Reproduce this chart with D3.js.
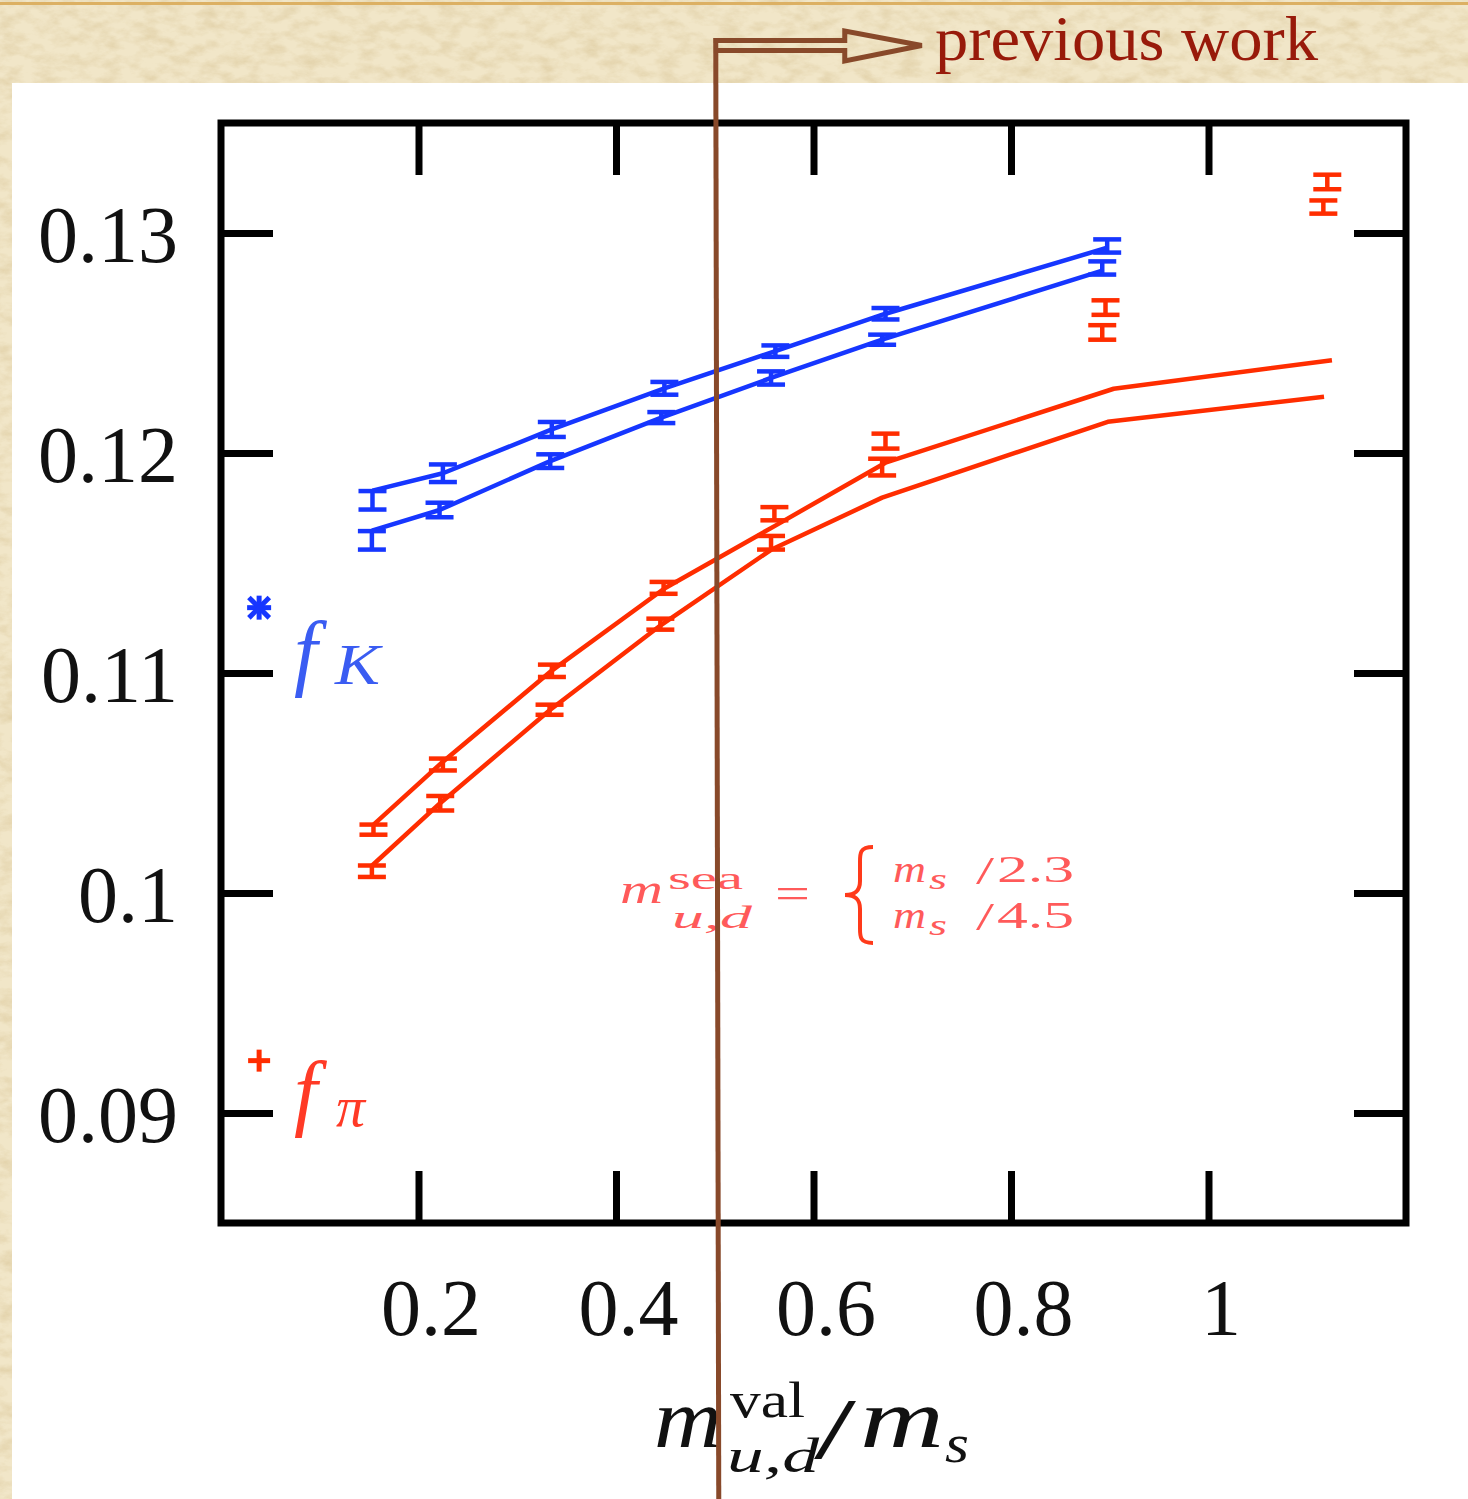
<!DOCTYPE html>
<html>
<head>
<meta charset="utf-8">
<script src="https://cdn.jsdelivr.net/npm/d3@7"></script>
<style>
  body { margin: 0; background: #fff; }
  svg { display: block; }
  .serif { font-family: "Liberation Serif", "Times New Roman", serif; }
</style>
</head>
<body>
<div id="chart"></div>
<script>
// f_K data, sea mass ms/2.3 (upper) and ms/4.5 (lower)
const fKx_23 = [0.1534, 0.2247, 0.3350, 0.4490, 0.5614, 0.6729, 0.8974];
const fK_23 = [0.11785, 0.11908, 0.12107, 0.12294, 0.12463, 0.12633, 0.12941];
const fKerr_23 = [0.00042, 0.00040, 0.00034, 0.00029, 0.00026, 0.00026, 0.00030];
const fKx_45 = [0.1528, 0.2213, 0.3334, 0.4459, 0.5570, 0.6695, 0.8924];
const fK_45 = [0.11603, 0.11741, 0.11963, 0.12161, 0.12341, 0.12515, 0.12841];
const fKerr_45 = [0.00042, 0.00033, 0.00031, 0.00025, 0.00030, 0.00023, 0.00030];
// fit curves for f_K
const fKfit_23 = [0.11829, 0.11908, 0.12107, 0.12294, 0.12463, 0.12633, 0.12933];
const fKfit_45 = [0.11647, 0.11741, 0.11963, 0.12161, 0.12341, 0.12515, 0.12829];

// f_pi data
const fPix_23 = [0.1544, 0.2247, 0.3351, 0.4482, 0.5604, 0.6729, 0.8957, 1.1203];
const fPi_23 = [0.10288, 0.10584, 0.11010, 0.11387, 0.11724, 0.12054, 0.12661, 0.13232];
const fPierr_23 = [0.00023, 0.00027, 0.00028, 0.00027, 0.00030, 0.00034, 0.00033, 0.00033];
const fPix_45 = [0.1528, 0.2220, 0.3327, 0.4449, 0.5570, 0.6695, 0.8924, 1.1163];
const fPi_45 = [0.10099, 0.10408, 0.10833, 0.11222, 0.11592, 0.11936, 0.12548, 0.13118];
const fPierr_45 = [0.00026, 0.00033, 0.00023, 0.00025, 0.00031, 0.00038, 0.00033, 0.00030];
// fit curves for f_pi
const fPifitX_23 = [0.1534, 0.2247, 0.3350, 0.4490, 0.5614, 0.6729, 0.9040, 1.1250];
const fPifit_23 = [0.10306, 0.10597, 0.11011, 0.11384, 0.11670, 0.11956, 0.12292, 0.12422];
const fPifitX_45 = [0.1528, 0.2213, 0.3334, 0.4459, 0.5570, 0.6695, 0.8980, 1.1170];
const fPifit_45 = [0.10124, 0.10406, 0.10833, 0.11219, 0.11560, 0.11797, 0.12142, 0.12256];

// physical points
const physX = [0.0386];
const physFK = [0.11297];
const physFPi = [0.09238];

const xTicks = [0.2, 0.4, 0.6, 0.8, 1];
const yTicks = [0.09, 0.1, 0.11, 0.12, 0.13];
const previousWork = [0.5];

const width = 1468, height = 1499;
const blue = "#1636ff", red = "#ff2d00", brown = "#88492a";

const svg = d3.select("#chart").append("svg")
    .attr("width", width)
    .attr("height", height);

// parchment background
const defs = svg.append("defs");
const filt = defs.append("filter").attr("id", "parch")
    .attr("x", 0).attr("y", 0).attr("width", "100%").attr("height", "100%");
filt.append("feTurbulence")
    .attr("type", "fractalNoise")
    .attr("baseFrequency", "0.05 0.09")
    .attr("numOctaves", 4)
    .attr("seed", 7)
    .attr("result", "noise");
filt.append("feColorMatrix")
    .attr("in", "noise")
    .attr("type", "matrix")
    .attr("values", "0 0 0 0 0.62  0 0 0 0 0.47  0 0 0 0 0.22  1.6 0 0 0 -0.62");

svg.append("rect").attr("width", width).attr("height", height).attr("fill", "#f1e6c8");
svg.append("rect").attr("width", width).attr("height", height)
    .attr("fill", "#000").attr("filter", "url(#parch)").attr("opacity", 0.5);
svg.append("rect").attr("x", 0).attr("y", 2).attr("width", width).attr("height", 3)
    .attr("fill", "#dcb063");

// white panel
svg.append("rect").attr("x", 12).attr("y", 83)
    .attr("width", width - 12).attr("height", height - 83)
    .attr("fill", "#fff");

const x = d3.scaleLinear().domain([0, 1.2]).range([221, 1406]);
const y = d3.scaleLinear().domain([0.085, 0.135]).range([1223, 123]);

// axes
function styleAxis(g) {
  g.select(".domain").remove();
  g.selectAll(".tick line").attr("stroke", "#000").attr("stroke-width", 7);
  g.selectAll(".tick text")
    .attr("class", "serif")
    .style("font-family", "'Liberation Serif', serif")
    .style("font-size", "80px")
    .attr("fill", "#111");
}

svg.append("g")
    .attr("transform", "translate(0,1223)")
    .call(d3.axisBottom(x).tickValues(xTicks).tickFormat(d3.format(""))
      .tickSizeInner(-52).tickSizeOuter(0).tickPadding(55))
    .call(styleAxis)
    .call(g => g.selectAll(".tick text").attr("dx", 12));

svg.append("g")
    .attr("transform", "translate(0,123)")
    .call(d3.axisTop(x).tickValues(xTicks).tickFormat("")
      .tickSizeInner(-52).tickSizeOuter(0))
    .call(styleAxis);

svg.append("g")
    .attr("transform", "translate(221,0)")
    .call(d3.axisLeft(y).tickValues(yTicks).tickFormat(d3.format(""))
      .tickSizeInner(-52).tickSizeOuter(0).tickPadding(43))
    .call(styleAxis)
    .call(g => g.selectAll(".tick text").attr("dy", "0.35em"));

svg.append("g")
    .attr("transform", "translate(1406,0)")
    .call(d3.axisRight(y).tickValues(yTicks).tickFormat("")
      .tickSizeInner(-52).tickSizeOuter(0))
    .call(styleAxis);

svg.append("rect")
    .attr("x", x(0)).attr("y", y(0.135))
    .attr("width", x(1.2) - x(0)).attr("height", y(0.085) - y(0.135))
    .attr("fill", "none").attr("stroke", "#000").attr("stroke-width", 7);

// fit lines
const line = d3.line().x(d => x(d[0])).y(d => y(d[1]));
const zip = (a, b) => a.map((v, i) => [v, b[i]]);

[
  [fKx_23, fKfit_23, blue],
  [fKx_45, fKfit_45, blue],
  [fPifitX_23, fPifit_23, red],
  [fPifitX_45, fPifit_45, red]
].forEach(([xs, ys, c]) => {
  svg.append("path")
    .datum(zip(xs, ys))
    .attr("d", line)
    .attr("fill", "none")
    .attr("stroke", c)
    .attr("stroke-width", 4.5)
    .attr("stroke-linejoin", "round");
});

// error bars
function errorBars(xs, ys, es, c) {
  const data = xs.map((v, i) => ({ x: v, y: ys[i], e: es[i] }));
  const g = svg.append("g").attr("stroke", c).attr("stroke-width", 4.5);
  const bar = g.selectAll("g").data(data).enter().append("g");
  bar.append("line")
    .attr("x1", d => x(d.x)).attr("x2", d => x(d.x))
    .attr("y1", d => y(d.y - d.e)).attr("y2", d => y(d.y + d.e));
  bar.append("line")
    .attr("x1", d => x(d.x) - 14).attr("x2", d => x(d.x) + 14)
    .attr("y1", d => y(d.y + d.e)).attr("y2", d => y(d.y + d.e));
  bar.append("line")
    .attr("x1", d => x(d.x) - 14).attr("x2", d => x(d.x) + 14)
    .attr("y1", d => y(d.y - d.e)).attr("y2", d => y(d.y - d.e));
}
errorBars(fKx_23, fK_23, fKerr_23, blue);
errorBars(fKx_45, fK_45, fKerr_45, blue);
errorBars(fPix_23, fPi_23, fPierr_23, red);
errorBars(fPix_45, fPi_45, fPierr_45, red);

// physical points: star for f_K, plus for f_pi
const star = svg.append("g").attr("stroke", blue).attr("stroke-width", 5);
physX.forEach((px, i) => {
  const cx = x(px), cy = y(physFK[i]), r = 12;
  star.append("line").attr("x1", cx - r).attr("x2", cx + r).attr("y1", cy).attr("y2", cy);
  star.append("line").attr("x1", cx).attr("x2", cx).attr("y1", cy - r).attr("y2", cy + r);
  star.append("line").attr("x1", cx - r * 0.85).attr("x2", cx + r * 0.85).attr("y1", cy - r * 0.85).attr("y2", cy + r * 0.85);
  star.append("line").attr("x1", cx - r * 0.85).attr("x2", cx + r * 0.85).attr("y1", cy + r * 0.85).attr("y2", cy - r * 0.85);
});
const plus = svg.append("g").attr("stroke", red).attr("stroke-width", 5);
physX.forEach((px, i) => {
  const cx = x(px), cy = y(physFPi[i]), r = 11;
  plus.append("line").attr("x1", cx - r).attr("x2", cx + r).attr("y1", cy).attr("y2", cy);
  plus.append("line").attr("x1", cx).attr("x2", cx).attr("y1", cy - r).attr("y2", cy + r);
});

// text helper
function txt(s, tx, ty, size, opts) {
  opts = opts || {};
  const t = svg.append("text")
    .attr("class", "serif")
    .attr("x", tx).attr("y", ty)
    .style("font-size", size + "px")
    .style("font-style", opts.italic ? "italic" : "normal")
    .attr("fill", opts.fill || "#111")
    .attr("text-anchor", opts.anchor || "start")
    .text(s);
  if (opts.len) t.attr("textLength", opts.len).attr("lengthAdjust", "spacingAndGlyphs");
  return t;
}

// series labels
txt("f", 294, 680, 84, { italic: true, fill: "#3a5cf2" });
txt("K", 335, 684, 56, { italic: true, fill: "#3a5cf2", len: 45 });
txt("f", 294, 1120, 84, { italic: true, fill: "#ff3a26" });
txt("π", 336, 1126, 58, { italic: true, fill: "#ff3a26" });

// x axis title
txt("m", 654, 1447, 84, { italic: true, len: 68 });
txt("val", 730, 1417, 50, { len: 75 });
txt("u,d", 727, 1472, 48, { italic: true, len: 92 });
txt("/", 814, 1458, 86, { len: 42 });
txt("m", 860, 1447, 84, { italic: true, len: 84 });
txt("s", 945, 1462, 54, { italic: true, len: 24 });

// sea mass annotation
const pink = "#ff5a5a";
txt("m", 620, 903, 42, { italic: true, fill: pink, len: 43 });
txt("sea", 668, 889, 31, { fill: pink, len: 75 });
txt("u,d", 672, 928, 31, { italic: true, fill: pink, len: 80 });
txt("=", 775, 908, 44, { fill: pink, len: 35 });
svg.append("path")
    .attr("d", "M873,847 C859,847 860,854 860,864 L860,881 C860,890 856,895 845,895 C856,895 860,900 860,909 L860,926 C860,936 859,943 873,943")
    .attr("fill", "none").attr("stroke", "#ff3a1a").attr("stroke-width", 4);
[["2.3", 882], ["4.5", 928]].forEach(([v, by]) => {
  txt("m", 893, by, 38, { italic: true, fill: pink, len: 33 });
  txt("s", 929, by + 7, 30, { italic: true, fill: pink, len: 18 });
  txt("/", 976, by + 2, 40, { fill: pink, len: 18 });
  txt(v, 997, by, 38, { fill: pink, len: 77 });
});

// "previous work" marker
const px0 = x(previousWork[0]);
svg.append("line")
    .attr("x1", px0 + 1).attr("x2", px0 + 4)
    .attr("y1", 38).attr("y2", height)
    .attr("stroke", brown).attr("stroke-width", 5);
svg.append("path")
    .attr("d", `M${px0 - 1},40.5 L${px0 + 130},40.5 L${px0 + 130},31 L${px0 + 207},45.5 L${px0 + 130},61 L${px0 + 130},50.5 L${px0 + 3},50.5`)
    .attr("fill", "none").attr("stroke", brown).attr("stroke-width", 5)
    .attr("stroke-linejoin", "miter");
svg.append("text")
    .attr("class", "serif")
    .attr("x", 935).attr("y", 60)
    .style("font-size", "64px")
    .attr("fill", "#981a0a")
    .attr("textLength", 383)
    .attr("lengthAdjust", "spacingAndGlyphs")
    .text("previous work");
</script>
</body>
</html>
